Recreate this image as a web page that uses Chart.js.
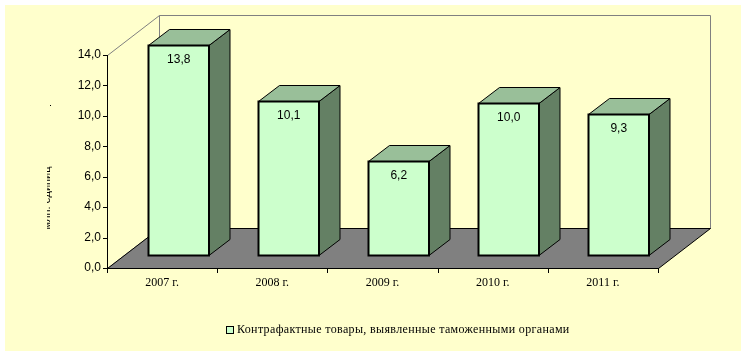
<!DOCTYPE html>
<html>
<head>
<meta charset="utf-8">
<script src="https://cdn.jsdelivr.net/npm/chart.js@4"></script>
<style>
html, body { margin: 0; padding: 0; background: #fff; }
#wrap { width: 745px; height: 354px; }
</style>
</head>
<body>
<div id="wrap"><canvas id="chart"></canvas></div>
<script>
const years = ["2007 г.", "2008 г.", "2009 г.", "2010 г.", "2011 г."];
const counterfeit = [13.8, 10.1, 6.2, 10.0, 9.3];
const yTicks = [0, 2, 4, 6, 8, 10, 12, 14];
const seriesName = "Контрафактные товары, выявленные таможенными органами";
const axisTitle = "млн. единиц";

// 3d look
const floorDX = 52, floorDY = -40;
const barFX = 16, barFY = -13;
const barDX = 21, barDY = -16;

const fmt = v => v.toFixed(1).replace(".", ",");

function poly(ctx, pts, fill, stroke, lw) {
    ctx.beginPath();
    ctx.moveTo(pts[0][0], pts[0][1]);
    for (let i = 1; i < pts.length; i++) ctx.lineTo(pts[i][0], pts[i][1]);
    ctx.closePath();
    if (fill) { ctx.fillStyle = fill; ctx.fill(); }
    if (stroke) { ctx.strokeStyle = stroke; ctx.lineWidth = lw || 1; ctx.stroke(); }
}

const box3d = {
    id: "box3d",
    beforeDraw(chart) {
        const ctx = chart.ctx;
        ctx.save();
        ctx.fillStyle = "#ffffff";
        ctx.fillRect(0, 0, chart.width, chart.height);
        ctx.fillStyle = "#ffffcc";
        ctx.fillRect(5, 5, 736, 346);
        ctx.restore();
    },
    beforeDatasetsDraw(chart) {
        const ctx = chart.ctx;
        const a = chart.chartArea;
        const L = a.left + 0.5, R = a.right + 0.5, T = a.top + 0.5, B = a.bottom + 0.5;
        ctx.save();
        // walls
        poly(ctx, [[L, T], [L + floorDX, T + floorDY], [L + floorDX, B + floorDY], [L, B]], "#ffffcc", "#808080", 1);
        poly(ctx, [[L + floorDX, T + floorDY], [R + floorDX, T + floorDY], [R + floorDX, B + floorDY], [L + floorDX, B + floorDY]], "#ffffcc", "#808080", 1);
        // floor
        poly(ctx, [[L, B], [R, B], [R + floorDX, B + floorDY], [L + floorDX, B + floorDY]], "#808080", "#000000", 1);
        ctx.restore();
    },
    beforeDatasetDraw() {
        return false;
    },
    afterDatasetsDraw(chart) {
        const ctx = chart.ctx;
        const a = chart.chartArea;
        const xs = chart.scales.x, ys = chart.scales.y;
        const meta = chart.getDatasetMeta(0);
        ctx.save();
        meta.data.forEach((bar, i) => {
            const w = bar.width;
            const left = Math.round(bar.x - w / 2 + barFX) + 0.5;
            const right = Math.round(left + w);
            const top = Math.round(bar.y + barFY) + 0.5;
            const bottom = Math.round(bar.base + barFY) + 0.5;
            poly(ctx, [[right, top], [right + barDX, top + barDY], [right + barDX, bottom + barDY], [right, bottom]], "#648064", "#000000", 1);
            poly(ctx, [[left, top], [left + barDX, top + barDY], [right + barDX, top + barDY], [right, top]], "#99bf99", "#000000", 1);
            poly(ctx, [[left, top], [right, top], [right, bottom], [left, bottom]], "#ccffcc", "#000000", 2);
            ctx.fillStyle = "#000000";
            ctx.font = "12px 'Liberation Sans'";
            ctx.textAlign = "center";
            ctx.textBaseline = "middle";
            ctx.fillText(fmt(counterfeit[i]), (left + right) / 2, top + 14);
        });

        // y axis
        ctx.strokeStyle = "#000000";
        ctx.lineWidth = 1;
        ctx.beginPath();
        ctx.moveTo(a.left + 0.5, a.top);
        ctx.lineTo(a.left + 0.5, a.bottom + 0.5);
        yTicks.forEach(t => {
            const py = Math.round(ys.getPixelForValue(t)) + 0.5;
            ctx.moveTo(a.left - 4, py);
            ctx.lineTo(a.left + 0.5, py);
        });
        ctx.stroke();
        ctx.font = "12px 'Liberation Sans'";
        ctx.textAlign = "right";
        ctx.textBaseline = "middle";
        yTicks.forEach(t => {
            ctx.fillText(fmt(t), a.left - 6, ys.getPixelForValue(t));
        });

        // x axis
        ctx.beginPath();
        ctx.moveTo(a.left, a.bottom + 0.5);
        ctx.lineTo(a.right, a.bottom + 0.5);
        for (let i = 0; i <= years.length; i++) {
            let px;
            if (i === 0) px = a.left;
            else if (i === years.length) px = a.right;
            else px = (xs.getPixelForValue(i - 1) + xs.getPixelForValue(i)) / 2;
            px = Math.round(px) + 0.5;
            ctx.moveTo(px, a.bottom);
            ctx.lineTo(px, a.bottom + 5);
        }
        ctx.stroke();
        ctx.font = "12px 'Liberation Serif'";
        ctx.textAlign = "center";
        years.forEach((y, i) => {
            ctx.fillText(y, xs.getPixelForValue(i), a.bottom + 15);
        });

        // axis title (partly hidden in the source)
        ctx.save();
        ctx.beginPath();
        ctx.rect(47, 150, 10, 90);
        ctx.clip();
        ctx.translate(47, 198);
        ctx.rotate(-Math.PI / 2);
        ctx.font = "11px 'Liberation Sans'";
        ctx.textAlign = "center";
        ctx.textBaseline = "middle";
        ctx.fillText(axisTitle, 0, 0);
        ctx.restore();
        ctx.fillRect(50, 105, 1, 1);

        // legend
        const ds = chart.data.datasets[0];
        ctx.fillStyle = ds.backgroundColor;
        ctx.fillRect(226.5, 326.5, 7, 7);
        ctx.strokeRect(226.5, 326.5, 7, 7);
        ctx.fillStyle = "#000000";
        ctx.font = "12px 'Liberation Serif'";
        ctx.letterSpacing = "0.35px";
        ctx.textAlign = "left";
        ctx.textBaseline = "middle";
        ctx.fillText(ds.label, 237, 330);
        ctx.restore();
    }
};

new Chart(document.getElementById("chart"), {
    type: "bar",
    data: {
        labels: years,
        datasets: [{
            label: seriesName,
            data: counterfeit,
            backgroundColor: "#ccffcc",
            borderColor: "#000000",
            borderWidth: 2,
            barPercentage: 0.553,
            categoryPercentage: 1
        }]
    },
    options: {
        responsive: true,
        maintainAspectRatio: false,
        animation: false,
        layout: { padding: { left: 107, right: 87, top: 55, bottom: 86 } },
        plugins: {
            legend: { display: false },
            tooltip: { enabled: false }
        },
        scales: {
            x: { display: false, offset: true },
            y: { display: false, min: 0, max: 14 }
        }
    },
    plugins: [box3d]
});
</script>
</body>
</html>
